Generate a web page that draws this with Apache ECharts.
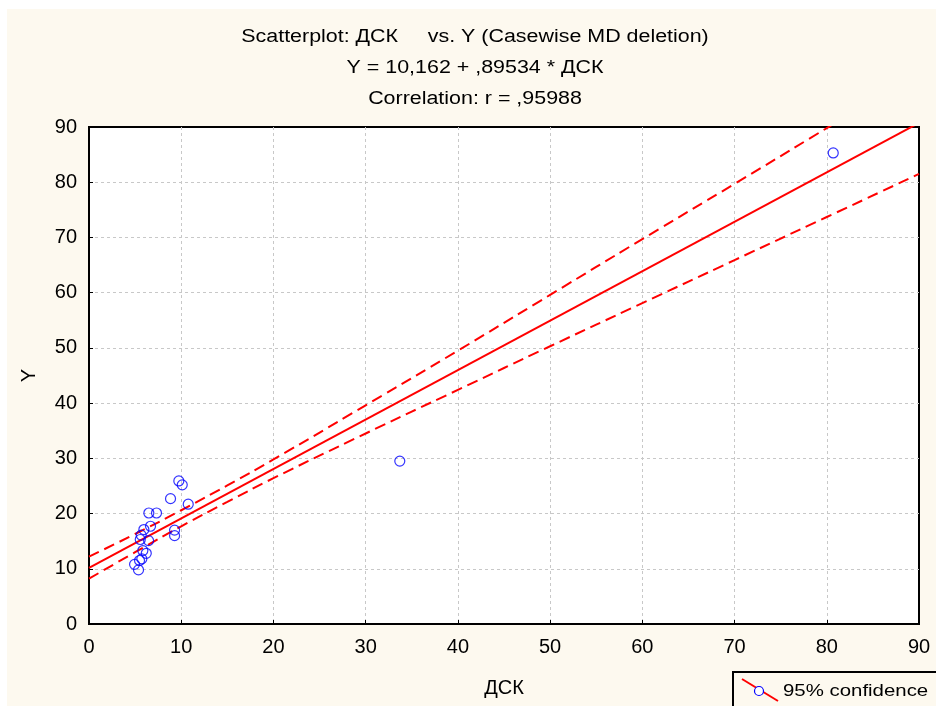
<!DOCTYPE html>
<html>
<head>
<meta charset="utf-8">
<script src="https://cdn.jsdelivr.net/npm/echarts@6/dist/echarts.min.js"></script>
<style>
  html, body { margin: 0; padding: 0; background: #fff; }
  #chart { width: 936px; height: 706px; }
</style>
</head>
<body>
<div id="chart"></div>
<script>
// observed points (ДСК, Y)
const dskValues = [9.74, 10.11, 8.84, 10.76, 6.49, 7.32, 6.67, 5.95, 9.28, 9.28,
  5.66, 5.56, 6.46, 5.84, 6.21, 5.73, 5.48, 4.94, 5.37, 33.7, 80.7];
const yValues = [25.9, 25.2, 22.7, 21.7, 20.1, 20.1, 17.7, 17.1, 17.0, 16.0,
  16.1, 15.3, 15.1, 13.3, 12.8, 11.8, 11.5, 10.8, 9.8, 29.5, 85.3];

// regression line Y = 10,162 + ,89534 * ДСК (end points)
const fitX = [0, 90];
const fitY = [10.162, 90.743];

// 95% confidence band
const bandX = [0, 5, 10, 15, 20, 30, 40, 50, 60, 70, 80, 90];
const bandUpper = [12.2, 16.3, 20.6, 25.1, 29.8, 39.6, 49.5, 59.6, 69.7, 79.7, 89.8, 99.9];
const bandLower = [8.2, 13.0, 17.7, 22.1, 26.4, 34.5, 42.4, 50.3, 58.1, 65.9, 73.7, 81.5];

const titleLines = [
  "Scatterplot: ДСК     vs. Y (Casewise MD deletion)",
  "Y = 10,162 + ,89534 * ДСК",
  "Correlation: r = ,95988",
];
const legendLabel = "95% confidence";

const FONT = "'Liberation Sans', Arial, sans-serif";
const pair = (xs, ys) => xs.map((x, i) => [x, ys[i]]);

const chart = echarts.init(document.getElementById("chart"));

const axisCommon = {
  type: "value",
  min: 0,
  max: 90,
  interval: 10,
  axisLine: { show: true, lineStyle: { color: "#000", width: 2 } },
  axisTick: { show: true, inside: true, length: 4, lineStyle: { color: "#000" } },
  splitLine: {
    show: true, showMinLine: false, showMaxLine: false,
    lineStyle: { color: "#c8c8c8", type: [3, 3], width: 1 },
  },
  axisLabel: { color: "#000", fontSize: 20, fontFamily: FONT },
  nameTextStyle: { color: "#000", fontSize: 20, fontFamily: FONT },
};

chart.setOption({
  backgroundColor: "#fff",
  animation: false,
  textStyle: { fontFamily: FONT },
  graphic: [
    { type: "rect", z: -10, silent: true,
      shape: { x: 7, y: 9, width: 929, height: 697 },
      style: { fill: "#fdf9ef" } },
    ...titleLines.map((t, i) => ({
      type: "text", x: 475, y: 37 + i * 31, scaleX: 1.19, z: 10,
      style: {
        text: t, fill: "#000", font: "18px " + FONT,
        textAlign: "center", textVerticalAlign: "middle",
      },
    })),
    { type: "rect", z: 10,
      shape: { x: 733, y: 672, width: 210, height: 40 },
      style: { fill: "#fdf9ef", stroke: "#000", lineWidth: 2 } },
    { type: "line", z: 11,
      shape: { x1: 742, y1: 679, x2: 778, y2: 701 },
      style: { stroke: "#ff0000", lineWidth: 2 } },
    { type: "circle", z: 12,
      shape: { cx: 759, cy: 691, r: 4.5 },
      style: { fill: "#fff", stroke: "#0000ff", lineWidth: 1.2 } },
    { type: "text", z: 12, x: 783, y: 691, scaleX: 1.2,
      style: {
        text: legendLabel, fill: "#000", font: "17px " + FONT,
        textAlign: "left", textVerticalAlign: "middle",
      } },
  ],
  grid: {
    left: 89, right: 17, top: 127, bottom: 82,
    show: true, backgroundColor: "#fff", borderColor: "#000", borderWidth: 2,
  },
  xAxis: {
    ...axisCommon,
    name: "ДСК",
    nameLocation: "middle",
    nameGap: 54,
    axisLabel: { ...axisCommon.axisLabel, margin: 13 },
  },
  yAxis: {
    ...axisCommon,
    name: "Y",
    nameLocation: "middle",
    nameGap: 50,
    axisLabel: { ...axisCommon.axisLabel, margin: 12 },
  },
  series: [
    {
      type: "line", data: pair(bandX, bandUpper), smooth: true, showSymbol: false,
      clip: true, lineStyle: { color: "#ff0000", width: 2, type: [11, 6] }, z: 3,
    },
    {
      type: "line", data: pair(bandX, bandLower), smooth: true, showSymbol: false,
      clip: true, lineStyle: { color: "#ff0000", width: 2, type: [11, 6] }, z: 3,
    },
    {
      type: "line", data: pair(fitX, fitY), showSymbol: false, clip: true,
      lineStyle: { color: "#ff0000", width: 2 }, z: 3,
    },
    {
      type: "scatter", data: pair(dskValues, yValues), symbol: "circle", symbolSize: 10,
      itemStyle: { color: "rgba(255,255,255,0)", borderColor: "#0000ff", borderWidth: 1.2 }, z: 4,
    },
  ],
});
</script>
</body>
</html>
